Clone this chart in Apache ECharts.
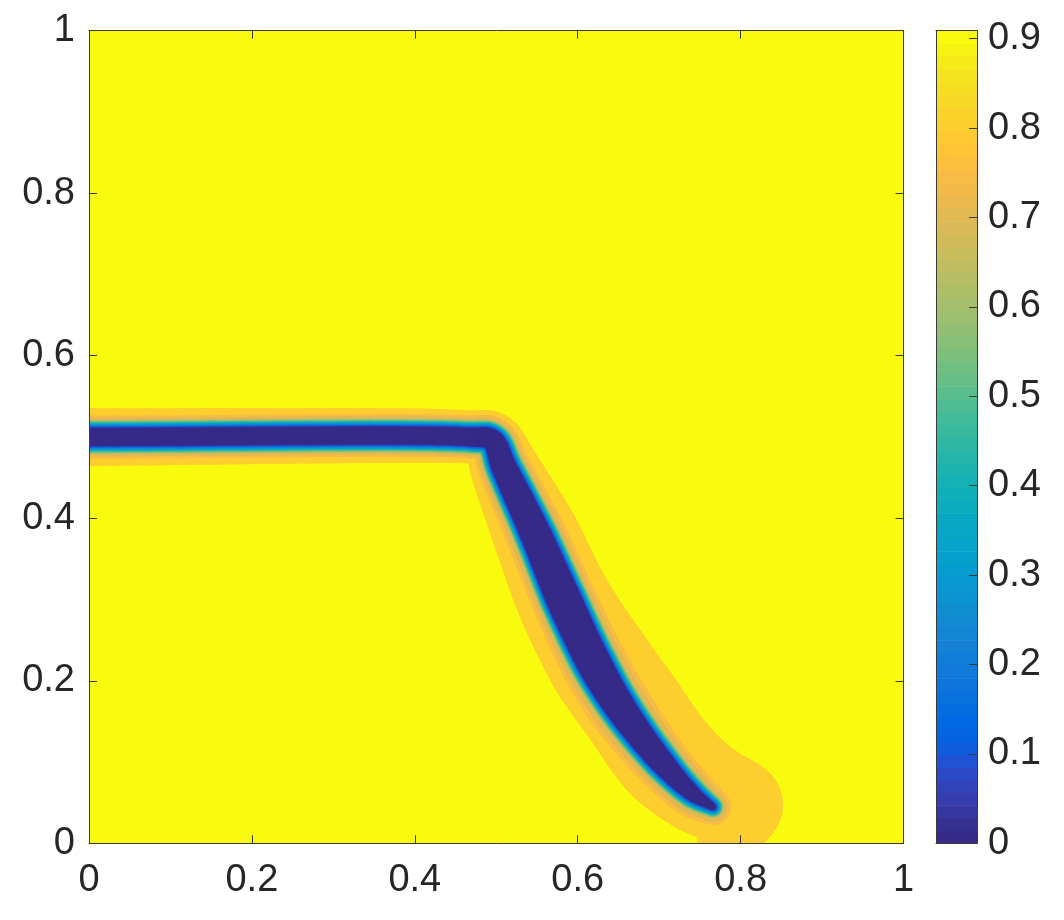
<!DOCTYPE html>
<html><head><meta charset="utf-8">
<script src="https://cdn.jsdelivr.net/npm/echarts@6/dist/echarts.min.js"></script>
<style>html,body{margin:0;padding:0;background:#fff}#c{width:1064px;height:920px}</style>
</head><body><div id="c"></div>
<script>
// ---- Data ----
// Centre line of the low-value channel (x, y in axis units)
const pathX = [0.000, 0.4678, 0.4948, 0.5095, 0.5488, 0.5832, 0.6212, 0.6544, 0.7011, 0.7403, 0.7661];
const pathY = [0.500, 0.500, 0.4963, 0.4631, 0.3794, 0.2994, 0.2194, 0.1640, 0.1025, 0.0619, 0.0447];
// Half-widths (axis units) of the channel where the field crosses 0.05, 0.70 and 0.80
const coreHalf  = [0.0111, 0.0111, 0.0123, 0.0148, 0.0184, 0.0209, 0.0203, 0.0178, 0.0141, 0.0092, 0.0037];
const tanHalf   = [0.0209, 0.0209, 0.0221, 0.0246, 0.0283, 0.0307, 0.0307, 0.0283, 0.0246, 0.0197, 0.0135];
const goldInner = [0.0264, 0.0264, 0.0283, 0.0320, 0.0369, 0.0393, 0.0406, 0.0393, 0.0344, 0.0295, 0.0221];
// The outer 0.85 contour: its own centre line and half-width (includes the lobe past the tip)
const haloX = [0.000, 0.4678, 0.4948, 0.5095, 0.5488, 0.5832, 0.6274, 0.6667, 0.7109, 0.7600, 0.8054, 0.7845];
const haloY = [0.500, 0.500, 0.4963, 0.4631, 0.3794, 0.2994, 0.2219, 0.1665, 0.1050, 0.0656, 0.0471, 0.0139];
const haloR = [0.0356, 0.0326, 0.0344, 0.0418, 0.0529, 0.0578, 0.0639, 0.0639, 0.0639, 0.0590, 0.0467, 0.0393];
// Contour levels (outermost first) and colour range
const contourLevels = [0.85, 0.80, 0.75, 0.70, 0.65, 0.60, 0.55, 0.50, 0.45, 0.40, 0.35, 0.30, 0.25, 0.20, 0.15, 0.10, 0.05];
const cMin = 0, cMax = 0.909;
const xTicks = [0, 0.2, 0.4, 0.6, 0.8, 1];
const cbTicks = [0, 0.1, 0.2, 0.3, 0.4, 0.5, 0.6, 0.7, 0.8, 0.9];

// ---- Style: parula colormap (64 entries) ----
const parula = [[0.2081,0.1663,0.5292],[0.2116,0.1898,0.5777],[0.2123,0.2138,0.6270],[0.2081,0.2386,0.6771],[0.1959,0.2645,0.7279],[0.1707,0.2919,0.7792],[0.1253,0.3242,0.8303],[0.0591,0.3598,0.8683],[0.0117,0.3875,0.8820],[0.0060,0.4086,0.8828],[0.0165,0.4266,0.8786],[0.0329,0.4430,0.8720],[0.0498,0.4586,0.8641],[0.0629,0.4737,0.8554],[0.0723,0.4887,0.8467],[0.0779,0.5040,0.8384],[0.0793,0.5200,0.8312],[0.0749,0.5375,0.8263],[0.0641,0.5570,0.8240],[0.0488,0.5772,0.8228],[0.0343,0.5966,0.8199],[0.0265,0.6137,0.8135],[0.0239,0.6287,0.8038],[0.0231,0.6418,0.7913],[0.0228,0.6535,0.7768],[0.0267,0.6642,0.7607],[0.0384,0.6743,0.7436],[0.0590,0.6838,0.7254],[0.0843,0.6928,0.7062],[0.1133,0.7015,0.6859],[0.1453,0.7098,0.6646],[0.1801,0.7177,0.6424],[0.2178,0.7250,0.6193],[0.2586,0.7317,0.5954],[0.3022,0.7376,0.5712],[0.3482,0.7424,0.5473],[0.3953,0.7459,0.5244],[0.4420,0.7481,0.5033],[0.4871,0.7491,0.4840],[0.5300,0.7491,0.4661],[0.5709,0.7485,0.4494],[0.6099,0.7473,0.4337],[0.6473,0.7456,0.4188],[0.6834,0.7435,0.4044],[0.7184,0.7411,0.3905],[0.7525,0.7384,0.3768],[0.7858,0.7356,0.3633],[0.8185,0.7327,0.3498],[0.8507,0.7299,0.3360],[0.8824,0.7274,0.3217],[0.9139,0.7258,0.3063],[0.9450,0.7261,0.2886],[0.9739,0.7314,0.2666],[0.9938,0.7455,0.2403],[0.9990,0.7653,0.2164],[0.9955,0.7861,0.1967],[0.9880,0.8066,0.1794],[0.9789,0.8271,0.1633],[0.9697,0.8481,0.1475],[0.9626,0.8705,0.1309],[0.9589,0.8949,0.1132],[0.9598,0.9218,0.0948],[0.9661,0.9514,0.0755],[0.9763,0.9831,0.0538]];
function rgb(c){return 'rgb('+Math.round(c[0]*255)+','+Math.round(c[1]*255)+','+Math.round(c[2]*255)+')';}
function colorFor(v){
  let i = Math.floor((v - cMin) / (cMax - cMin) * 64 + 1e-9);
  i = Math.max(0, Math.min(63, i));
  return rgb(parula[i]);
}
const TEXT = '#262626', LINE = '#3a3a3a', FONT = '"Liberation Sans", Arial, Helvetica, sans-serif';
const SUB = 14; // drawing subdivisions per centre-line segment (smooth curve rendering)

function halfWidth(i, L){
  if (L > 0.70 + 1e-9) return tanHalf[i] + (goldInner[i] - tanHalf[i]) * (L - 0.70) / 0.10;
  return coreHalf[i] + (tanHalf[i] - coreHalf[i]) * (L - 0.05) / 0.65;
}

// centripetal Catmull-Rom in pixel space (rendering smoothness only)
function lerpT(a, b, ta, tb, t){
  const u = (tb - ta) === 0 ? 0 : (t - ta) / (tb - ta);
  return [a[0] + (b[0]-a[0])*u, a[1] + (b[1]-a[1])*u];
}
function crPoint(p0, p1, p2, p3, s){
  const d = (a, b) => Math.pow(Math.hypot(b[0]-a[0], b[1]-a[1]) || 1e-6, 0.5);
  const t0 = 0, t1 = t0 + d(p0, p1), t2 = t1 + d(p1, p2), t3 = t2 + d(p2, p3);
  const t = t1 + (t2 - t1) * s;
  const A1 = lerpT(p0, p1, t0, t1, t), A2 = lerpT(p1, p2, t1, t2, t), A3 = lerpT(p2, p3, t2, t3, t);
  const B1 = lerpT(A1, A2, t0, t2, t), B2 = lerpT(A2, A3, t1, t3, t);
  return lerpT(B1, B2, t1, t2, t);
}
function smoothPath(pts, ws){
  const n = pts.length;
  if (n < 3) return [pts, ws];
  const ext = [[2*pts[0][0]-pts[1][0], 2*pts[0][1]-pts[1][1]]].concat(pts,
              [[2*pts[n-1][0]-pts[n-2][0], 2*pts[n-1][1]-pts[n-2][1]]]);
  const outP = [], outW = [];
  for (let i = 0; i < n - 1; i++){
    for (let k = 0; k < SUB; k++){
      const s = k / SUB;
      outP.push(crPoint(ext[i], ext[i+1], ext[i+2], ext[i+3], s));
      outW.push(ws[i] + (ws[i+1] - ws[i]) * s);
    }
  }
  outP.push(pts[n-1]); outW.push(ws[n-1]);
  return [outP, outW];
}
// union of quads + round joints = buffered polyline
function capsules(pts, ws, style, children){
  for (let i = 0; i < pts.length - 1; i++){
    const a = pts[i], b = pts[i+1];
    const dx = b[0]-a[0], dy = b[1]-a[1], len = Math.hypot(dx, dy) || 1e-6;
    const nx = -dy/len, ny = dx/len;
    children.push({type:'polygon', shape:{points:[
      [a[0]+nx*ws[i], a[1]+ny*ws[i]], [b[0]+nx*ws[i+1], b[1]+ny*ws[i+1]],
      [b[0]-nx*ws[i+1], b[1]-ny*ws[i+1]], [a[0]-nx*ws[i], a[1]-ny*ws[i]]]}, style: style});
  }
  for (let i = 0; i < pts.length; i++){
    children.push({type:'circle', shape:{cx:pts[i][0], cy:pts[i][1], r:ws[i]}, style: style});
  }
}

function renderBand(params, api){
  const L = contourLevels[api.value(0)];
  const style = {fill: colorFor(L - 0.05), stroke: null};
  const children = [];
  let pts0, ws0;
  if (L >= 0.85 - 1e-9){
    pts0 = haloX.map((x, j) => api.coord([x, haloY[j]]));
    ws0 = haloR.map(r => api.size([r, 0])[0]);
  } else {
    pts0 = pathX.map((x, i) => api.coord([x, pathY[i]]));
    ws0 = pathX.map((x, i) => api.size([halfWidth(i, L), 0])[0]);
  }
  const [pts, ws] = smoothPath(pts0, ws0);
  capsules(pts, ws, style, children);
  return {type:'group', children:children};
}

const cbStep = (cMax - cMin) / 64;
function renderBar(params, api){
  const i = api.value(0);
  const p1 = api.coord([0, cMin + (i+1)*cbStep]);
  const p0 = api.coord([1, cMin + i*cbStep]);
  return {type:'rect', shape:{x:p1[0], y:p1[1], width:p0[0]-p1[0], height:p0[1]-p1[1]+0.6},
    style:{fill:rgb(parula[i]), stroke:null}};
}

const chart = echarts.init(document.getElementById('c'), null, {renderer:'canvas'});
const lineStyle = {color: LINE, width: 1};
const labelStyle = {fontSize: 38, color: TEXT, fontFamily: FONT};
chart.setOption({
  animation: false,
  backgroundColor: '#ffffff',
  grid: [
    {left: 89, top: 30.7, width: 814.5, height: 812.6, show: true, backgroundColor: rgb(parula[63]), borderWidth: 0},
    {left: 936, top: 30.7, width: 41, height: 812.6, show: false}
  ],
  xAxis: [
    {gridIndex:0, type:'value', min:0, max:1, interval:0.2, position:'bottom', z:5,
     axisLine:{show:true, onZero:false, lineStyle}, axisTick:{show:true, inside:true, length:8, lineStyle},
     axisLabel:Object.assign({margin:18, formatter:v => String(+v.toFixed(1))}, labelStyle), splitLine:{show:false}},
    {gridIndex:0, type:'value', min:0, max:1, interval:0.2, position:'top', z:5,
     axisLine:{show:true, onZero:false, lineStyle}, axisTick:{show:true, inside:true, length:8, lineStyle},
     axisLabel:{show:false}, splitLine:{show:false}},
    {gridIndex:1, type:'value', min:0, max:1, position:'bottom', z:5,
     axisLine:{show:true, onZero:false, lineStyle}, axisTick:{show:false}, axisLabel:{show:false}, splitLine:{show:false}},
    {gridIndex:1, type:'value', min:0, max:1, position:'top', z:5,
     axisLine:{show:true, onZero:false, lineStyle}, axisTick:{show:false}, axisLabel:{show:false}, splitLine:{show:false}}
  ],
  yAxis: [
    {gridIndex:0, type:'value', min:0, max:1, interval:0.2, position:'left', z:5,
     axisLine:{show:true, onZero:false, lineStyle}, axisTick:{show:true, inside:true, length:8, lineStyle},
     axisLabel:Object.assign({margin:14, formatter:v => String(+v.toFixed(1))}, labelStyle), splitLine:{show:false}},
    {gridIndex:0, type:'value', min:0, max:1, interval:0.2, position:'right', z:5,
     axisLine:{show:true, onZero:false, lineStyle}, axisTick:{show:true, inside:true, length:8, lineStyle},
     axisLabel:{show:false}, splitLine:{show:false}},
    {gridIndex:1, type:'value', min:cMin, max:cMax, interval:0.1, position:'left', z:5,
     axisLine:{show:true, onZero:false, lineStyle}, axisTick:{show:false}, axisLabel:{show:false}, splitLine:{show:false}},
    {gridIndex:1, type:'value', min:cMin, max:cMax, interval:0.1, position:'right', z:5,
     axisLine:{show:true, onZero:false, lineStyle}, axisTick:{show:true, inside:true, length:8, lineStyle},
     axisLabel:Object.assign({margin:11, showMaxLabel:false,
       formatter:v => (cbTicks.some(t => Math.abs(t - v) < 1e-6) ? String(+v.toFixed(1)) : '')}, labelStyle),
     splitLine:{show:false}}
  ],
  series: [
    {type:'custom', xAxisIndex:0, yAxisIndex:0, clip:true, z:2, silent:true,
     data: contourLevels.map((L, k) => [k]), encode:{x:-1, y:-1}, renderItem: renderBand},
    {type:'custom', xAxisIndex:2, yAxisIndex:2, clip:true, z:2, silent:true,
     data: parula.map((c, i) => [i]), encode:{x:-1, y:-1}, renderItem: renderBar}
  ]
});
</script></body></html>
